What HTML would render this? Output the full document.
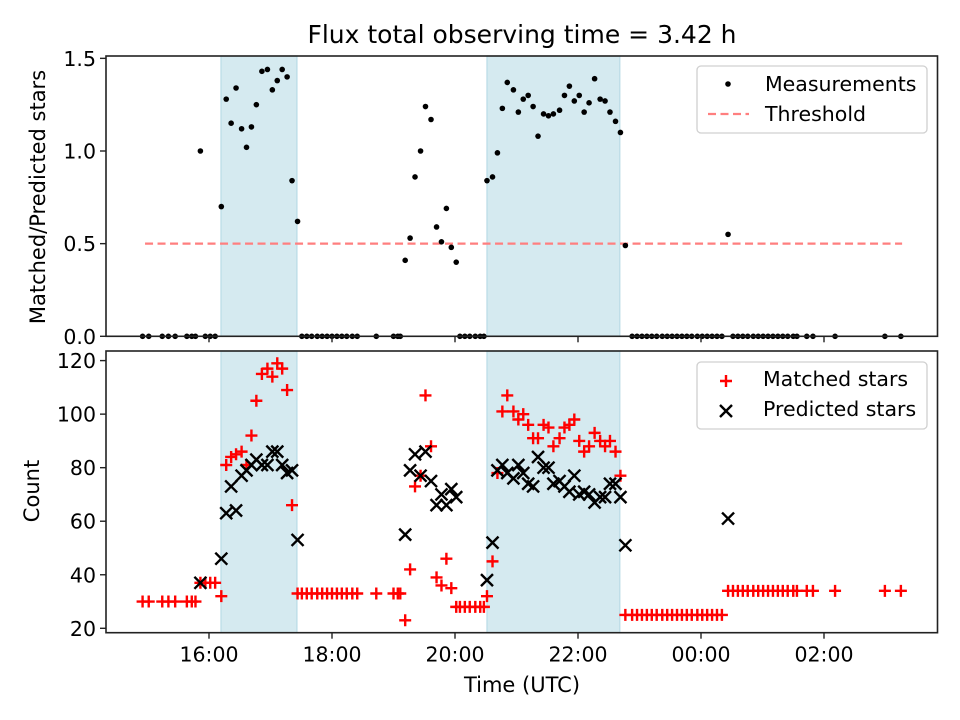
<!DOCTYPE html>
<html><head><meta charset="utf-8"><style>
html,body{margin:0;padding:0;background:#fff;}
svg{display:block;font-family:"DejaVu Sans","Liberation Sans",sans-serif;}
</style></head><body>
<svg id="chart" width="960" height="720" viewBox="0 0 960 720">
<rect width="960" height="720" fill="#fff"/>
<text x="522" y="43" text-anchor="middle" font-size="25" fill="#000">Flux total observing time = 3.42 h</text>
<g id="topPanel"></g>
<g id="botPanel"></g>
<text x="522" y="692" text-anchor="middle" font-size="21">Time (UTC)</text>
<text transform="translate(45,197) rotate(-90)" text-anchor="middle" font-size="21">Matched/Predicted stars</text>
<text transform="translate(39,491) rotate(-90)" text-anchor="middle" font-size="21">Count</text>
</svg>
<script>
// time in decimal hours (24+ = after midnight)
const times=[14.92,15.02,15.24,15.34,15.45,15.64,15.72,15.78,15.86,15.94,16.02,16.10,
16.20,16.28,16.36,16.44,16.53,16.61,16.69,16.77,16.86,16.95,17.03,17.11,17.19,17.27,17.35,17.44,
17.51,17.59,17.67,17.76,17.84,17.92,18.00,18.08,18.16,18.24,18.33,18.41,18.72,19.00,19.07,19.11,
19.19,19.27,19.35,19.44,19.52,19.61,19.70,19.78,19.86,19.94,20.02,
20.08,20.16,20.24,20.33,20.41,20.47,
20.52,20.61,20.69,20.77,20.85,20.95,21.03,21.11,21.19,21.27,21.35,21.44,21.52,21.60,21.70,21.78,21.86,21.94,22.02,22.10,22.18,22.27,22.36,22.44,22.52,22.61,22.69,22.77,
22.88,22.96,23.04,23.12,23.20,23.28,23.37,23.45,23.53,23.61,23.69,23.77,23.85,23.94,24.02,24.10,24.18,24.26,24.34,
24.44,
24.52,24.60,24.68,24.76,24.85,24.93,25.01,25.09,25.17,25.25,25.33,25.41,25.50,25.56,25.72,25.82,26.18,26.99,27.25];
const ratio=[0,0,0,0,0,0,0,0,1.0,0,0,0,
0.70,1.28,1.15,1.34,1.12,1.02,1.13,1.25,1.43,1.44,1.33,1.38,1.44,1.40,0.84,0.62,
0,0,0,0,0,0,0,0,0,0,0,0,0,0,0,0,
0.41,0.53,0.86,1.0,1.24,1.17,0.59,0.51,0.69,0.48,0.40,
0,0,0,0,0,0,
0.84,0.86,0.99,1.23,1.37,1.33,1.21,1.28,1.30,1.24,1.08,1.20,1.19,1.20,1.22,1.30,1.35,1.27,1.30,1.21,1.26,1.39,1.28,1.27,1.21,1.16,1.10,0.49,
0,0,0,0,0,0,0,0,0,0,0,0,0,0,0,0,0,0,0,
0.55,
0,0,0,0,0,0,0,0,0,0,0,0,0,0,0,0,0,0,0];
const matched=[30,30,30,30,30,30,30,30,37,37,37,37,
32,81,84,85,86,81,92,105,115,117,114,119,117,109,66,33,
33,33,33,33,33,33,33,33,33,33,33,33,33,33,33,33,
23,42,73,77,107,88,39,36,46,35,28,
28,28,28,28,28,28,
32,45,78,101,107,101,98,100,96,91,91,96,95,88,91,95,96,98,90,86,88,93,90,88,90,86,77,25,
25,25,25,25,25,25,25,25,25,25,25,25,25,25,25,25,25,25,25,
34,
34,34,34,34,34,34,34,34,34,34,34,34,34,34,34,34,34,34,34];
const predicted=[null,null,null,null,null,null,null,null,37,null,null,null,
46,63,73,64,77,79,81,83,81,81,86,86,81,78,79,53,
null,null,null,null,null,null,null,null,null,null,null,null,null,null,null,null,
55,79,85,77,86,75,66,70,66,72,69,
null,null,null,null,null,null,
38,52,79,81,78,76,81,78,74,73,84,80,80,74,75,73,71,77,70,71,70,67,69,69,74,74,69,51,
null,null,null,null,null,null,null,null,null,null,null,null,null,null,null,null,null,null,null,
61,
null,null,null,null,null,null,null,null,null,null,null,null,null,null,null,null,null,null,null];
const threshold=[0.5];
const thresholdRange=[14.96,27.27];
const spans=[[16.195,17.43],[20.52,22.68]];
const xTickHours=[16,18,20,22,24,26];
const xTickLabels=["16:00","18:00","20:00","22:00","00:00","02:00"];
const topTicks=[0,0.5,1.0,1.5];
const topTickLabels=["0.0","0.5","1.0","1.5"];
const botTicks=[20,40,60,80,100,120];

const NS="http://www.w3.org/2000/svg";
const X0=106,X1=937.5;
const xs=h=>209+(h-16)*61.5;
const yT=v=>336.3-v*185.3;
const yB=v=>628.3-(v-20)*2.677;
function mk(tag,attrs,parent){const e=document.createElementNS(NS,tag);for(const k in attrs)e.setAttribute(k,attrs[k]);parent.appendChild(e);return e;}
const topG=document.getElementById('topPanel'),botG=document.getElementById('botPanel');

function panel(g,yt,yb,name){
  spans.forEach((s,i)=>{
    const r=mk('rect',{x:xs(s[0]),y:yt,width:xs(s[1])-xs(s[0]),height:yb-yt,fill:'#d5eaf0',stroke:'#b9dbe6','stroke-width':1.2},g);
    
    
  });
}
function frame(g,yt,yb,name,labels){
  const f=mk('rect',{x:X0,y:yt,width:X1-X0,height:yb-yt,fill:'none',stroke:'#222','stroke-width':1.6},g);
  
  
  xTickHours.forEach((h,i)=>{
    const t=mk('line',{x1:xs(h),x2:xs(h),y1:yb,y2:yb+6,stroke:'#222','stroke-width':1.4},g);
    
    
    if(labels){
      const l=mk('text',{x:xs(h),y:yb+29,'text-anchor':'middle','font-size':20.5},g);
      l.textContent=xTickLabels[i];
      
      
    }
  });
}
panel(topG,56,336.3,'top');
const th=mk('line',{x1:xs(thresholdRange[0]),x2:xs(thresholdRange[1]),y1:yT(threshold[0]),y2:yT(threshold[0]),stroke:'#ff7f7f','stroke-width':2.2,'stroke-dasharray':'8,4.5'},topG);


times.forEach((t,i)=>{
  const c=mk('circle',{cx:xs(t),cy:yT(ratio[i]),r:2.8,fill:'#000'},topG);
  
  
});
frame(topG,56,336.3,'top',false);
topTicks.forEach((v,i)=>{
  const t=mk('line',{x1:X0-6,x2:X0,y1:yT(v),y2:yT(v),stroke:'#222','stroke-width':1.4},topG);
  
  
  const l=mk('text',{x:X0-10,y:yT(v)+7.5,'text-anchor':'end','font-size':20.5},topG);
  l.textContent=topTickLabels[i];
  
  
});
panel(botG,351,632.7,'bottom');
times.forEach((t,i)=>{
  const cx=xs(t),cy=yB(matched[i]);
  const p=mk('path',{d:`M${cx-6},${cy}H${cx+6}M${cx},${cy-6}V${cy+6}`,stroke:'#ff0000','stroke-width':2.4,fill:'none'},botG);
  
  
});
times.forEach((t,i)=>{
  if(predicted[i]===null)return;
  const cx=xs(t),cy=yB(predicted[i]);
  const p=mk('path',{d:`M${cx-6},${cy-6}L${cx+6},${cy+6}M${cx-6},${cy+6}L${cx+6},${cy-6}`,stroke:'#000','stroke-width':2.4,fill:'none'},botG);
  
  
});
frame(botG,351,632.7,'bottom',true);
botTicks.forEach(v=>{
  const t=mk('line',{x1:X0-6,x2:X0,y1:yB(v),y2:yB(v),stroke:'#222','stroke-width':1.4},botG);
  
  
  const l=mk('text',{x:X0-10,y:yB(v)+7.5,'text-anchor':'end','font-size':20.5},botG);
  l.textContent=String(v);
  
  
});
function legendBox(g,y,name){
  const r=mk('rect',{x:697,y:y,width:230,height:67,rx:4,fill:'rgba(255,255,255,0.8)',stroke:'#d0d0d0','stroke-width':1.3},g);
  
  
}
legendBox(topG,66,'top-legend');
let e=mk('circle',{cx:728,cy:84,r:2.8,fill:'#000'},topG);


e=mk('text',{x:765,y:91,'font-size':20.5},topG);e.textContent='Measurements';


e=mk('line',{x1:708,x2:749,y1:114,y2:114,stroke:'#ff7f7f','stroke-width':2.2,'stroke-dasharray':'8,4.5'},topG);


e=mk('text',{x:765,y:121,'font-size':20.5},topG);e.textContent='Threshold';


legendBox(botG,362,'bottom-legend');
e=mk('path',{d:'M720,381H732M726,375V387',stroke:'#ff0000','stroke-width':2.4},botG);


e=mk('text',{x:763,y:386,'font-size':20.5},botG);e.textContent='Matched stars';


e=mk('path',{d:'M720,405L732,417M720,417L732,405',stroke:'#000','stroke-width':2.4},botG);


e=mk('text',{x:763,y:416,'font-size':20.5},botG);e.textContent='Predicted stars';


</script>
</body></html>
